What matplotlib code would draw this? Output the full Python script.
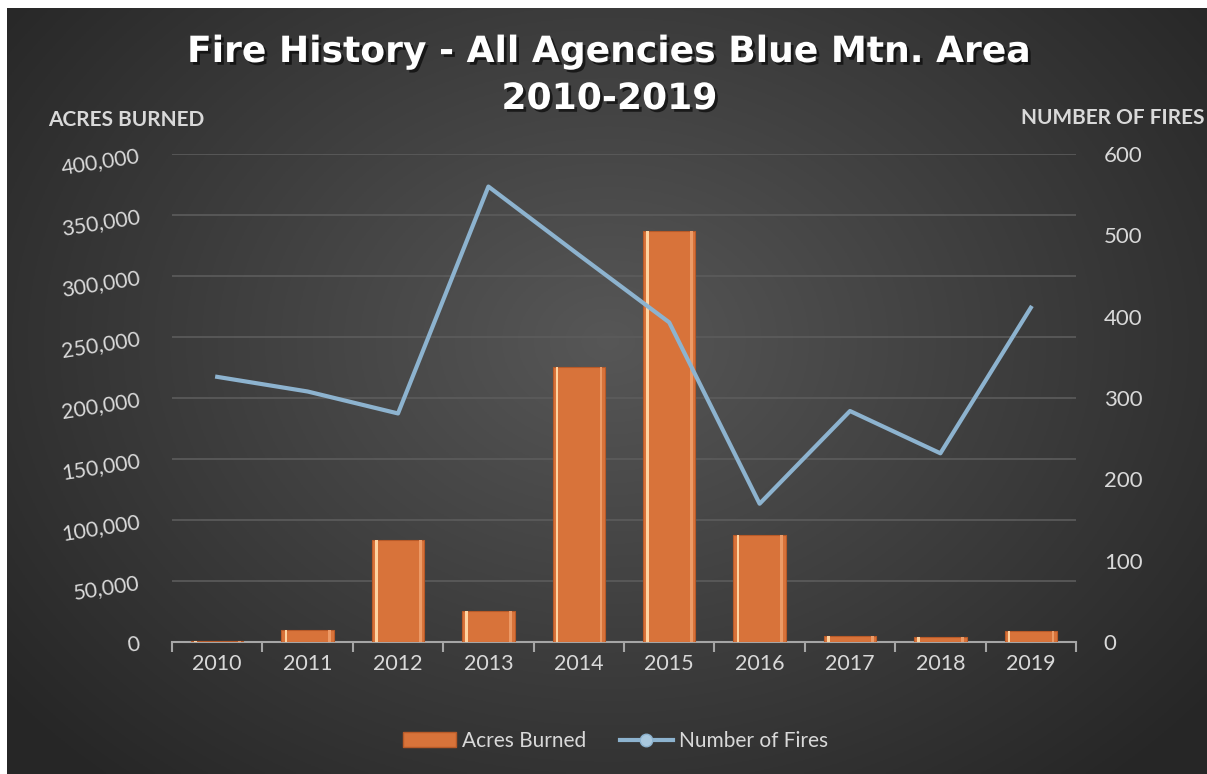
import numpy as np
import matplotlib.pyplot as plt
from matplotlib.lines import Line2D
from matplotlib.patches import Patch
import matplotlib.patheffects as pe

years = ["2010", "2011", "2012", "2013", "2014", "2015", "2016", "2017", "2018", "2019"]
acres = [600, 10000, 83500, 25500, 225500, 337000, 87500, 5000, 4000, 9000]
fires = [326, 308, 281, 560, 476, 393, 170, 284, 232, 411]

left_ticks = [0, 50000, 100000, 150000, 200000, 250000, 300000, 350000, 400000]
right_ticks = [0, 100, 200, 300, 400, 500, 600]

W, H = 1207, 774
fig = plt.figure(figsize=(W / 100, H / 100), dpi=100, facecolor="white")

# dark radial background panel
bg = fig.add_axes([7 / W, 0, 1 - 7 / W, 1 - 8 / H])
yy, xx = np.mgrid[0:300, 0:470]
r = np.sqrt(((xx - 235) / 300.0) ** 2 + ((yy - 130) / 230.0) ** 2)
shade = np.clip(0.34 - 0.19 * r, 0.15, 0.34)
bg.imshow(np.dstack([shade] * 3), aspect="auto", extent=[0, 1, 0, 1])
bg.axis("off")

ax = fig.add_axes([172 / W, 132 / H, 904 / W, 488 / H])
ax.patch.set_alpha(0)
x = np.arange(len(years))
bw = 0.58

ax.bar(x, acres, width=bw, color="#D8733A", edgecolor="#B85A28", linewidth=0.8, zorder=3)
# bevel highlights
ax.bar(x - bw / 2 + 0.035, acres, width=0.03, align="edge", color="#FFD3A0", linewidth=0, zorder=4)
ax.bar(x + bw / 2 - 0.06, acres, width=0.03, align="edge", color="#EC9A66", linewidth=0, zorder=4)

ax.set_xlim(-0.5, len(years) - 0.5)
ax.set_ylim(0, 400000)
ax.set_yticks(left_ticks)
ax.set_yticklabels([f"{v:,}" for v in left_ticks], rotation=9, color="#D9D9D9",
                   fontsize=15.5, family="Lato")
ax.yaxis.grid(True, color="#5C5C5C", linewidth=1.2, zorder=0)
ax.set_axisbelow(True)
ax.tick_params(axis="y", length=0, pad=22)
ax.set_xticks(x)
ax.set_xticklabels(years, color="#D9D9D9", fontsize=15.5, family="Lato")
ax.set_xticks(np.arange(-0.5, len(years)), minor=True)
ax.tick_params(axis="x", which="major", length=0, pad=9)
ax.tick_params(axis="x", which="minor", length=7, color="#A6A6A6", width=1.5)
for s in ["top", "left", "right"]:
    ax.spines[s].set_visible(False)
ax.spines["bottom"].set_color("#A6A6A6")
ax.spines["bottom"].set_linewidth(1.5)

ax2 = ax.twinx()
ax2.plot(x, fires, color="#8DB3CF", linewidth=3, zorder=5, solid_joinstyle="round")
ax2.set_ylim(0, 600)
ax2.set_yticks(right_ticks)
ax2.set_yticklabels([str(v) for v in right_ticks], color="#D9D9D9", fontsize=16, family="Lato")
ax2.tick_params(axis="y", length=0, pad=20)
for s in ["top", "left", "right", "bottom"]:
    ax2.spines[s].set_visible(False)

shadow = [pe.withSimplePatchShadow(offset=(2, -2), shadow_rgbFace="black", alpha=0.6)]
fig.text(0.505, 1 - 52 / H, "Fire History - All Agencies Blue Mtn. Area", ha="center", va="center",
         fontsize=26, fontweight="bold", color="white", family="DejaVu Sans", path_effects=shadow)
fig.text(0.505, 1 - 99 / H, "2010-2019", ha="center", va="center",
         fontsize=26, fontweight="bold", color="white", family="DejaVu Sans", path_effects=shadow)

fig.text(48 / W, 1 - 120 / H, "ACRES BURNED", ha="left", va="center",
         fontsize=15, fontweight="bold", color="#D9D9D9", family="Lato")
fig.text(1021 / W, 1 - 118 / H, "NUMBER OF FIRES", ha="left", va="center",
         fontsize=15, fontweight="bold", color="#D9D9D9", family="Lato")

handles = [Patch(facecolor="#D8733A", edgecolor="#B85A28"),
           Line2D([0], [0], color="#8DB3CF", linewidth=3, marker="o", markersize=9,
                  markerfacecolor="#A9C8DE", markeredgecolor="#8DB3CF")]
fig.legend(handles, ["Acres Burned", "Number of Fires"], loc="center", bbox_to_anchor=(0.51, 1 - 741 / H),
           ncol=2, frameon=False, labelcolor="#D9D9D9", prop={"family": "Lato", "size": 15},
           handlelength=2.55, handletextpad=0.3, columnspacing=1.6)

fig.savefig("out.png", dpi=100, facecolor="white")
